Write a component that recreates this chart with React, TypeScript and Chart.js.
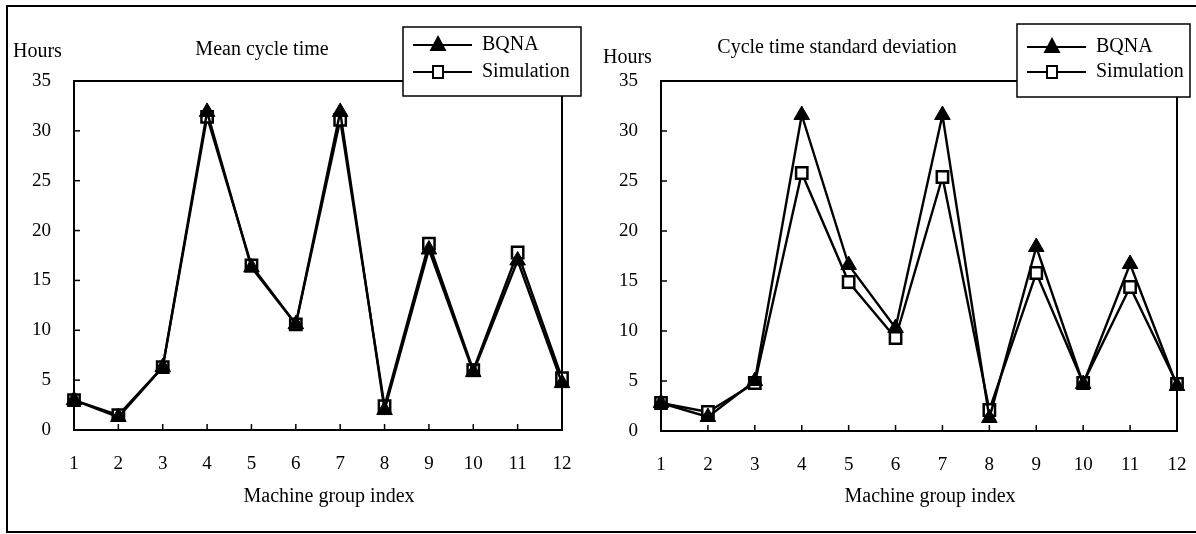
import React, { useEffect, useRef } from "react";
import { Chart, registerables } from "chart.js";

Chart.register(...registerables);

const categories = ["1", "2", "3", "4", "5", "6", "7", "8", "9", "10", "11", "12"];
const meanBQNA = [3.0, 1.3, 6.3, 31.9, 16.3, 10.6, 31.9, 2.0, 18.1, 5.8, 17.0, 4.7];
const meanSim = [3.0, 1.5, 6.3, 31.4, 16.5, 10.6, 31.1, 2.4, 18.7, 6.0, 17.8, 5.2];
const sdBQNA = [2.8, 1.4, 5.0, 31.6, 16.6, 10.3, 31.6, 1.3, 18.4, 4.7, 16.7, 4.5];
const sdSim = [2.8, 1.9, 4.8, 25.8, 14.9, 9.3, 25.4, 2.1, 15.8, 4.8, 14.4, 4.7];
const yMin = 0;
const yMax = 35;
const yStep = 5;
const seriesNames = ["BQNA", "Simulation"];
const titles = ["Mean cycle time", "Cycle time standard deviation"];
const yUnit = "Hours";
const xTitle = "Machine group index";

const FONT = '"Liberation Serif", "Times New Roman", serif';

type Panel = {
  offsetX: number;
  area: [number, number, number, number];
  hours: [number, number];
  title: [number, number];
  legend: [number, number, number, number];
  legendRows: [number, number];
  xTitle: [number, number];
  bqna: number[];
  sim: number[];
  title2: string;
};

const panels: Panel[] = [
  {
    offsetX: 0,
    area: [74, 81, 562, 430],
    hours: [13, 52],
    title: [262, 50],
    legend: [403, 27, 581, 96],
    legendRows: [45, 72],
    xTitle: [329, 497],
    bqna: meanBQNA,
    sim: meanSim,
    title2: titles[0],
  },
  {
    offsetX: 598,
    area: [661, 81, 1177, 431],
    hours: [603, 58],
    title: [837, 48],
    legend: [1017, 24, 1190, 97],
    legendRows: [47, 72],
    xTitle: [930, 497],
    bqna: sdBQNA,
    sim: sdSim,
    title2: titles[1],
  },
];

function drawTriangle(ctx: CanvasRenderingContext2D, x: number, y: number, r: number) {
  ctx.beginPath();
  ctx.moveTo(x, y - r);
  ctx.lineTo(x + r * 0.85, y + r * 0.6);
  ctx.lineTo(x - r * 0.85, y + r * 0.6);
  ctx.closePath();
  ctx.fillStyle = "#000";
  ctx.fill();
}

function PanelChart({ p }: { p: Panel }) {
  const ref = useRef<HTMLCanvasElement | null>(null);
  useEffect(() => {
    if (!ref.current) return;
    const W = 598;
    const H = 534;
    const ox = p.offsetX;
    const [L, T, R, B] = p.area;
    const overlay = {
      id: "overlay",
      afterDraw(chart: any) {
        const ctx = chart.ctx as CanvasRenderingContext2D;
        const ca = chart.chartArea;
        ctx.save();
        ctx.strokeStyle = "#000";
        ctx.lineWidth = 2;
        ctx.strokeRect(ca.left, ca.top, ca.right - ca.left, ca.bottom - ca.top);
        const ys = chart.scales.y;
        const xs = chart.scales.x;
        ctx.lineWidth = 1.5;
        for (let v = yMin + yStep; v < yMax; v += yStep) {
          const py = ys.getPixelForValue(v);
          ctx.beginPath();
          ctx.moveTo(ca.left, py);
          ctx.lineTo(ca.left + 6, py);
          ctx.stroke();
        }
        for (let i = 1; i < categories.length - 1; i++) {
          const px = xs.getPixelForValue(i);
          ctx.beginPath();
          ctx.moveTo(px, ca.bottom);
          ctx.lineTo(px, ca.bottom - 6);
          ctx.stroke();
        }
        ctx.fillStyle = "#000";
        ctx.textBaseline = "middle";
        ctx.font = "20px " + FONT;
        ctx.textAlign = "left";
        ctx.fillText(yUnit, p.hours[0] - ox, p.hours[1]);
        ctx.textAlign = "center";
        ctx.fillText(p.title2, p.title[0] - ox, p.title[1]);
        ctx.fillText(xTitle, p.xTitle[0] - ox, p.xTitle[1]);
        const [lx1, ly1, lx2, ly2] = p.legend;
        ctx.fillStyle = "#fff";
        ctx.fillRect(lx1 - ox, ly1, lx2 - lx1, ly2 - ly1);
        ctx.strokeStyle = "#000";
        ctx.lineWidth = 1.5;
        ctx.strokeRect(lx1 - ox, ly1, lx2 - lx1, ly2 - ly1);
        const lineStart = lx1 - ox + 10;
        const lineEnd = lx1 - ox + 69;
        const mk = lx1 - ox + 35;
        const textX = lx1 - ox + 79;
        ctx.lineWidth = 2;
        ctx.beginPath();
        ctx.moveTo(lineStart, p.legendRows[0]);
        ctx.lineTo(lineEnd, p.legendRows[0]);
        ctx.stroke();
        drawTriangle(ctx, mk, p.legendRows[0], 10);
        ctx.beginPath();
        ctx.moveTo(lineStart, p.legendRows[1]);
        ctx.lineTo(lineEnd, p.legendRows[1]);
        ctx.stroke();
        ctx.fillStyle = "#fff";
        ctx.fillRect(mk - 5, p.legendRows[1] - 6, 10, 12);
        ctx.strokeRect(mk - 5, p.legendRows[1] - 6, 10, 12);
        ctx.fillStyle = "#000";
        ctx.textAlign = "left";
        ctx.fillText(seriesNames[0], textX, p.legendRows[0]);
        ctx.fillText(seriesNames[1], textX, p.legendRows[1]);
        ctx.restore();
      },
    };
    const chart = new Chart(ref.current, {
      type: "line",
      data: {
        labels: categories,
        datasets: [
          {
            label: seriesNames[0],
            data: p.bqna,
            borderColor: "#000",
            borderWidth: 2.4,
            pointStyle: "triangle",
            pointRadius: 9,
            pointBackgroundColor: "#000",
            pointBorderColor: "#000",
            pointBorderWidth: 1,
            tension: 0,
            order: 0,
          },
          {
            label: seriesNames[1],
            data: p.sim,
            borderColor: "#000",
            borderWidth: 2.4,
            pointStyle: "rect",
            pointRadius: 8,
            pointBackgroundColor: "#fff",
            pointBorderColor: "#000",
            pointBorderWidth: 2.5,
            tension: 0,
            order: 1,
          },
        ],
      },
      options: {
        responsive: false,
        animation: false,
        devicePixelRatio: 1,
        layout: { padding: { left: 0, top: T, right: W - (R - ox), bottom: 0 } },
        plugins: { legend: { display: false }, title: { display: false }, tooltip: { enabled: false } },
        scales: {
          x: {
            type: "category",
            offset: false,
            grid: { display: false, drawTicks: false },
            border: { display: false },
            ticks: { color: "#000", font: { family: FONT, size: 19 }, padding: 23, maxRotation: 0, autoSkip: false },
            afterFit: (s: any) => {
              s.height = H - B;
              s.paddingLeft = 0;
              s.paddingRight = 0;
            },
          },
          y: {
            min: yMin,
            max: yMax,
            grid: { display: false, drawTicks: false },
            border: { display: false },
            ticks: { stepSize: yStep, color: "#000", font: { family: FONT, size: 19 }, padding: 23 },
            afterFit: (s: any) => {
              s.width = L - ox;
              s.paddingTop = 0;
              s.paddingBottom = 0;
            },
          },
        },
      },
      plugins: [overlay],
    } as any);
    return () => chart.destroy();
  }, [p]);
  return (
    <canvas
      ref={ref}
      width={598}
      height={534}
      style={{ position: "absolute", left: p.offsetX, top: 0, width: 598, height: 534 }}
    />
  );
}

export default function App() {
  return (
    <div style={{ position: "absolute", left: 0, top: 0, width: 1196, height: 534, background: "#fff", overflow: "hidden" }}>
      <PanelChart p={panels[0]} />
      <PanelChart p={panels[1]} />
      <div
        style={{
          position: "absolute",
          left: 6,
          top: 5,
          width: 1196,
          height: 524,
          borderTop: "2px solid #000",
          borderLeft: "2px solid #000",
          borderBottom: "2px solid #000",
          pointerEvents: "none",
        }}
      />
    </div>
  );
}
